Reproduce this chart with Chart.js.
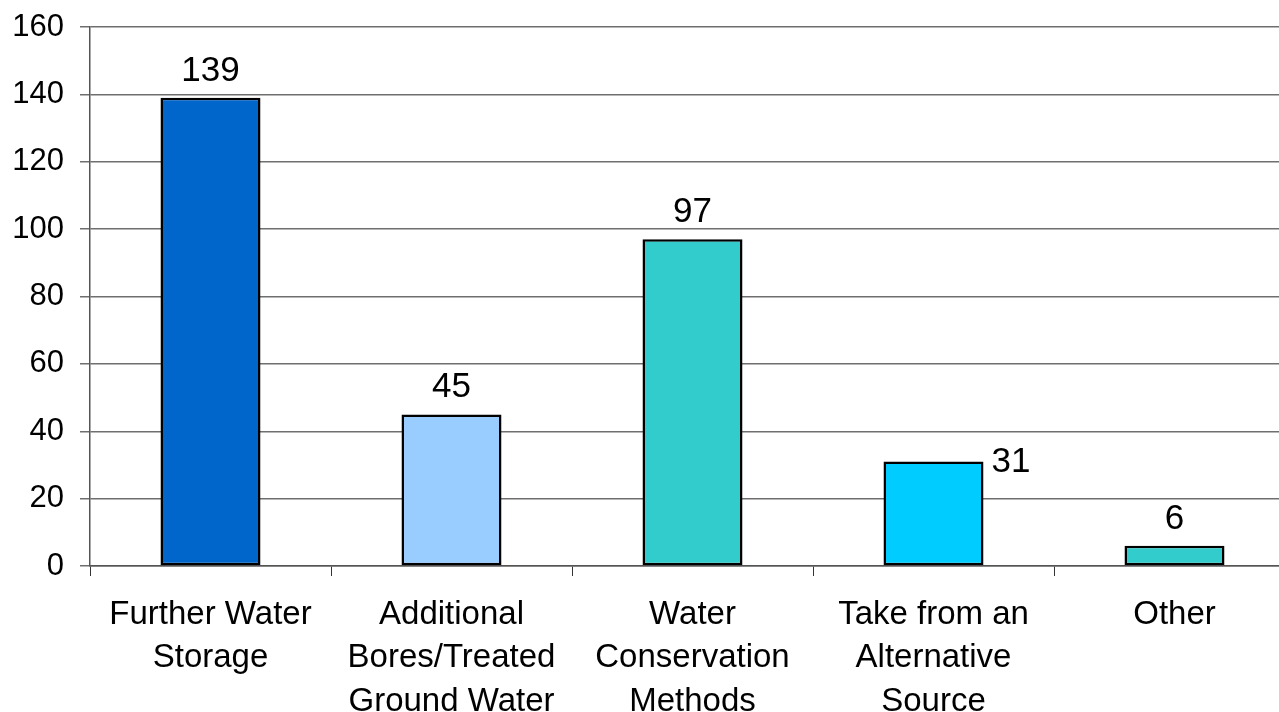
<!DOCTYPE html>
<html>
<head>
<meta charset="utf-8">
<script src="https://cdn.jsdelivr.net/npm/chart.js@4/dist/chart.umd.min.js"></script>
<style>
  html, body { margin: 0; padding: 0; background: #fff; overflow: hidden; }
  #wrap { width: 1295px; height: 712px; position: relative; }
</style>
</head>
<body>
<div id="wrap"><canvas id="chart"></canvas></div>
<script>
const categories = [
  ["Further Water", "Storage"],
  ["Additional", "Bores/Treated", "Ground Water"],
  ["Water", "Conservation", "Methods"],
  ["Take from an", "Alternative", "Source"],
  ["Other"],
];
const counts = [139, 45, 97, 31, 6];
const barColors = ["#0066CC", "#99CCFF", "#33CCCC", "#00CCFF", "#33CCCC"];
const yTicks = [0, 20, 40, 60, 80, 100, 120, 140, 160];

const fontFamily = "'Liberation Sans', Arial, sans-serif";

// value labels over the bars (the 31 sits to the right of its bar)
const valueLabels = {
  id: "valueLabels",
  afterDatasetsDraw(chart) {
    const ctx = chart.ctx;
    const meta = chart.getDatasetMeta(0);
    ctx.save();
    ctx.fillStyle = "#000";
    ctx.font = "35px " + fontFamily;
    meta.data.forEach((bar, i) => {
      const txt = String(counts[i]);
      if (i === 3) {
        ctx.textAlign = "left";
        ctx.textBaseline = "middle";
        ctx.fillText(txt, bar.x + bar.width / 2 + 8, bar.y + 1);
      } else {
        ctx.textAlign = "center";
        ctx.textBaseline = "alphabetic";
        ctx.fillText(txt, bar.x, bar.y - 17);
      }
    });
    ctx.restore();
  }
};

new Chart(document.getElementById("chart"), {
  type: "bar",
  data: {
    labels: categories,
    datasets: [{
      data: counts,
      backgroundColor: barColors,
      borderColor: "#000",
      borderWidth: 2.5,
      borderSkipped: false,
      categoryPercentage: 1,
      barPercentage: 0.415,
    }]
  },
  options: {
    responsive: true,
    maintainAspectRatio: false,
    animation: false,
    layout: { padding: { top: 27, right: 0, bottom: 0, left: 0 } },
    plugins: {
      legend: { display: false },
      tooltip: { enabled: false },
    },
    scales: {
      x: {
        offset: true,
        grid: {
          offset: true,
          drawOnChartArea: false,
          drawTicks: true,
          tickLength: 10,
          color: "#333",
          lineWidth: 1,
        },
        border: { color: "#555", width: 1.5 },
        ticks: {
          color: "#000",
          font: { family: fontFamily, size: 33, lineHeight: 1.32 },
          padding: 17,
          maxRotation: 0,
          autoSkip: false,
        },
        afterFit(scale) { scale.height = 146; },
      },
      y: {
        min: 0,
        max: 160,
        afterBuildTicks(scale) { scale.ticks = yTicks.map(v => ({ value: v })); },
        grid: {
          color: "#6f6f6f",
          lineWidth: 1.5,
          drawTicks: true,
          tickLength: 10,
        },
        border: { color: "#555", width: 1.5 },
        ticks: {
          color: "#000",
          font: { family: fontFamily, size: 31 },
          padding: 16,
        },
        afterFit(scale) {
          scale.width = 90;
          scale.paddingTop = 0;
          scale.paddingBottom = 0;
        },
      }
    }
  },
  plugins: [valueLabels]
});
</script>
</body>
</html>
